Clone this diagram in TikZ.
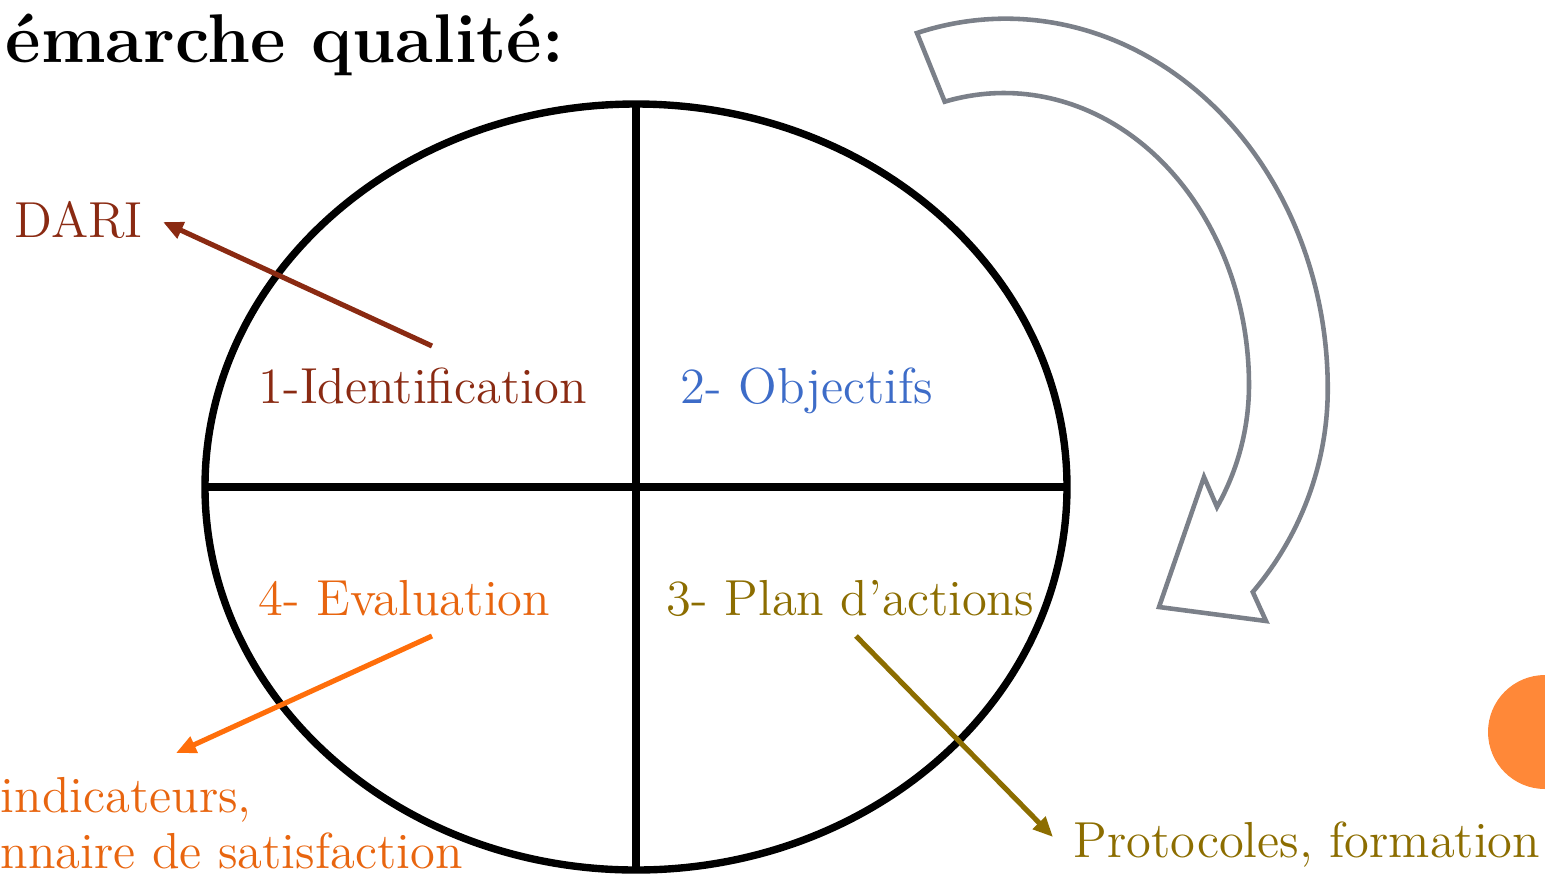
\documentclass[tikz,border=0pt]{standalone}
\usetikzlibrary{arrows.meta}
\definecolor{cdred}{HTML}{8A2A12}
\definecolor{cblue}{HTML}{3D6CC8}
\definecolor{corange}{HTML}{E8650F}
\definecolor{corarrow}{HTML}{FF6E0A}
\definecolor{colive}{HTML}{8C6D00}
\definecolor{cgray}{HTML}{7B8089}
\definecolor{cdot}{HTML}{FF8838}
\begin{document}
\begin{tikzpicture}[x=0.01cm,y=-0.01cm,
  lbl/.style={anchor=base west,inner sep=0pt,font=\fontsize{14.4}{17}\selectfont},
  ptr/.style={line width=1.45pt,-{Triangle[length=0.2cm,width=0.17cm]}},
  ring/.style={line width=2.1pt,black},
  bigarrow/.style={line width=1.3pt,cgray,line join=miter}]
\useasboundingbox (0,0) rectangle (1545,875);
% orange dot at the right edge
\fill[cdot] (1545,732) circle (57);
% title
\node[anchor=base west,inner sep=0pt,font=\fontsize{19.6}{22}\selectfont\bfseries] (title) at (5,62) {émarche qualité:};
% big circle divided in four
\draw[ring] (636,487) ellipse [x radius=431, y radius=383];
\draw[ring] (636,104) -- (636,870);
\draw[ring] (205,487) -- (1067,487);
% curved grey arrow
\draw[bigarrow] (917,33)
  arc[start angle=-106, end angle=0, x radius=322, y radius=370]
  arc[start angle=0, end angle=39.9, x radius=322, y radius=317]
  -- (1266,621) -- (1159,607) -- (1204,477) -- (1217,507)
  arc[start angle=29.6, end angle=0, x radius=245, y radius=247]
  arc[start angle=0, end angle=-104, x radius=245, y radius=292]
  -- cycle;
% labels
\node[lbl,text=cdred] (ident) at (258,403) {1-Identification};
\node[lbl,text=cblue] (obj) at (680,403) {2- Objectifs};
\node[lbl,text=corange] (eval) at (258,615) {4- Evaluation};
\node[lbl,text=colive] (plan) at (666,615) {3- Plan d'actions};
\node[lbl,text=cdred] (dari) at (14,237) {DARI};
\node[lbl,text=corange] (indic) at (0,812) {indicateurs,};
\node[lbl,text=corange] (quest) at (0,868) {nnaire de satisfaction};
\node[lbl,text=colive] (proto) at (1073,857) {Protocoles, formation};
% pointers
\coordinate (s1) at (432,346);
\coordinate (e1) at (163,222);
\coordinate (s2) at (432,636);
\coordinate (e2) at (176,753);
\coordinate (s3) at (856,636);
\coordinate (e3) at (1053,837);
\draw[ptr,cdred] (s1) -- (e1);
\draw[ptr,corarrow] (s2) -- (e2);
\draw[ptr,colive] (s3) -- (e3);
\end{tikzpicture}
\end{document}
